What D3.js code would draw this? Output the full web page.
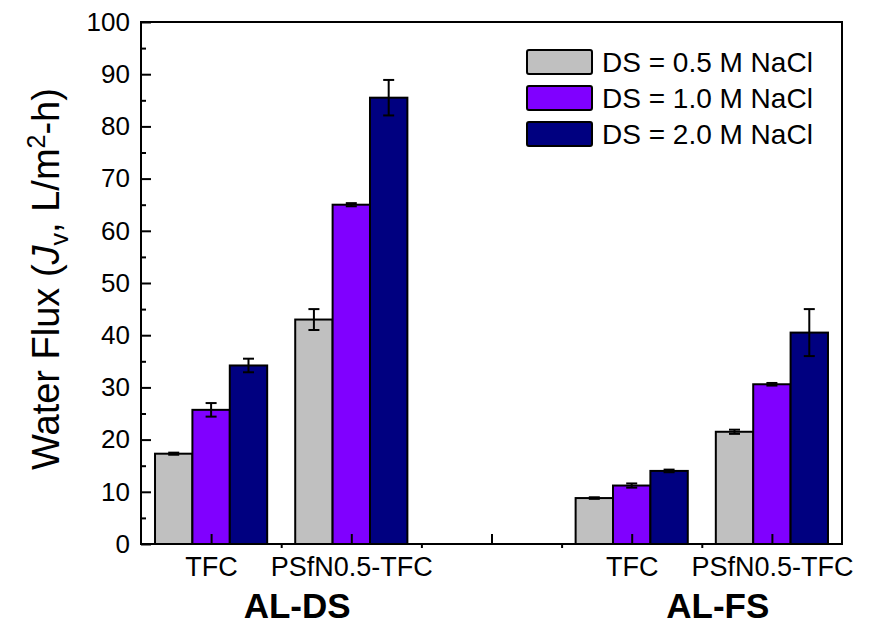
<!DOCTYPE html>
<html>
<head>
<meta charset="utf-8">
<script src="https://cdn.jsdelivr.net/npm/d3@7"></script>
<style>
  html, body { margin: 0; padding: 0; background: #fff; }
  svg { display: block; font-family: "Liberation Sans", Arial, sans-serif; }
</style>
</head>
<body>
<svg id="chart" width="875" height="633"></svg>
<script>
// ---- data ----
const xTickLabels = ["TFC", "PSfN0.5-TFC", "", "TFC", "PSfN0.5-TFC"];
const xPositions = [1, 2, 3, 4, 5];
const groupLabels = ["AL-DS", "AL-FS"];
const groupCenters = [1.5, 4.5];
const seriesNames = ["DS = 0.5 M NaCl", "DS = 1.0 M NaCl", "DS = 2.0 M NaCl"];
const seriesColors = ["#C0C0C0", "#8000FF", "#000080"];
const flux05 = [17.3, 43.0, null, 8.8, 21.5];
const flux10 = [25.7, 65.0, null, 11.2, 30.6];
const flux20 = [34.2, 85.5, null, 14.0, 40.5];
const err05 = [0.2, 2.0, null, 0.15, 0.4];
const err10 = [1.3, 0.3, null, 0.4, 0.25];
const err20 = [1.3, 3.4, null, 0.25, 4.5];
const yTicks = [0, 10, 20, 30, 40, 50, 60, 70, 80, 90, 100];
const yMinorTicks = [5, 15, 25, 35, 45, 55, 65, 75, 85, 95];
const xMinorTicks = [1.5, 2.5, 3.5, 4.5];

const seriesValues = [flux05, flux10, flux20];
const seriesErrors = [err05, err10, err20];

// ---- layout ----
const svg = d3.select("#chart");
const pLeft = 141, pRight = 842, pTop = 22, pBottom = 544;

const x = d3.scaleLinear().domain([0.5, 5.5]).range([pLeft, pRight]);
const y = d3.scaleLinear().domain([0, 100]).range([pBottom, pTop]);
const groupWidth = x(1.4) - x(0.6);
const xSub = d3.scaleBand().domain(d3.range(seriesNames.length)).range([-groupWidth / 2, groupWidth / 2]).paddingInner(0);

// ---- bars ----
const barData = [];
seriesValues.forEach((vals, s) => {
  vals.forEach((v, i) => {
    if (v != null) barData.push({ s, pos: xPositions[i], v, e: seriesErrors[s][i] });
  });
});

const gBars = svg.append("g");
gBars.selectAll("rect.bar").data(barData).enter().append("rect")
  .attr("class", "bar")
  .attr("x", d => x(d.pos) + xSub(d.s))
  .attr("width", xSub.bandwidth())
  .attr("y", d => y(d.v))
  .attr("height", d => y(0) - y(d.v))
  .attr("fill", d => seriesColors[d.s])
  .attr("stroke", "#000")
  .attr("stroke-width", 2);

// error bars
const capHalf = 5.5;
const gErr = svg.append("g").attr("stroke", "#000").attr("stroke-width", 2);
barData.forEach(d => {
  const cx = x(d.pos) + xSub(d.s) + xSub.bandwidth() / 2;
  gErr.append("line").attr("x1", cx).attr("x2", cx).attr("y1", y(d.v + d.e)).attr("y2", y(d.v - d.e));
  gErr.append("line").attr("x1", cx - capHalf).attr("x2", cx + capHalf).attr("y1", y(d.v + d.e)).attr("y2", y(d.v + d.e));
  gErr.append("line").attr("x1", cx - capHalf).attr("x2", cx + capHalf).attr("y1", y(d.v - d.e)).attr("y2", y(d.v - d.e));
});

// ---- axes ----
const yAxis = d3.axisLeft(y).tickValues(yTicks).tickSizeInner(-10).tickSizeOuter(0).tickPadding(11).tickFormat(d3.format("d"));
const gy = svg.append("g").attr("transform", `translate(${pLeft},0)`).call(yAxis);
gy.select(".domain").remove();
gy.selectAll(".tick line").attr("stroke", "#000").attr("stroke-width", 2);
gy.selectAll(".tick text").attr("font-size", 26).attr("fill", "#000").attr("font-family", "Liberation Sans, Arial, sans-serif");

const yMinor = d3.axisLeft(y).tickValues(yMinorTicks).tickSizeInner(-5).tickSizeOuter(0).tickFormat("");
const gym = svg.append("g").attr("transform", `translate(${pLeft},0)`).call(yMinor);
gym.select(".domain").remove();
gym.selectAll(".tick line").attr("stroke", "#000").attr("stroke-width", 2);

const xAxis = d3.axisBottom(x).tickValues(xPositions).tickSizeInner(-10).tickSizeOuter(0).tickPadding(13)
  .tickFormat((d, i) => xTickLabels[i]);
const gx = svg.append("g").attr("transform", `translate(0,${pBottom})`).call(xAxis);
gx.select(".domain").remove();
gx.selectAll(".tick line").attr("stroke", "#000").attr("stroke-width", 2);
gx.selectAll(".tick text").attr("font-size", 27).attr("fill", "#000").attr("font-family", "Liberation Sans, Arial, sans-serif");

const xMinor = d3.axisBottom(x).tickValues(xMinorTicks).tickSizeInner(4).tickSizeOuter(0).tickFormat("");
const gxm = svg.append("g").attr("transform", `translate(0,${pBottom})`).call(xMinor);
gxm.select(".domain").remove();
gxm.selectAll(".tick line").attr("stroke", "#000").attr("stroke-width", 2);

// frame
svg.append("rect")
  .attr("x", pLeft).attr("y", pTop)
  .attr("width", pRight - pLeft).attr("height", pBottom - pTop)
  .attr("fill", "none").attr("stroke", "#000").attr("stroke-width", 2);

// group labels
svg.append("g").selectAll("text").data(groupLabels).enter().append("text")
  .attr("x", (d, i) => x(groupCenters[i]) + 16)
  .attr("y", 618)
  .attr("text-anchor", "middle")
  .attr("font-size", 35)
  .attr("font-weight", "bold")
  .attr("fill", "#000")
  .text(d => d);

// y title
const title = svg.append("text")
  .attr("transform", `translate(59,279) rotate(-90)`)
  .attr("text-anchor", "middle")
  .attr("font-size", 38)
  .attr("fill", "#000");
title.append("tspan").text("Water Flux (");
title.append("tspan").attr("font-style", "italic").text("J");
title.append("tspan").attr("font-size", 25).attr("dy", 9).text("v");
title.append("tspan").attr("dy", -9).text(", L/m");
title.append("tspan").attr("font-size", 25).attr("dy", -14).text("2");
title.append("tspan").attr("dy", 14).text("-h)");

// legend
const legend = svg.append("g");
const legRows = legend.selectAll("g").data(seriesNames).enter().append("g")
  .attr("transform", (d, i) => `translate(527,${50 + i * 36})`);
legRows.append("rect")
  .attr("width", 65).attr("height", 24).attr("rx", 2)
  .attr("fill", (d, i) => seriesColors[i])
  .attr("stroke", "#000").attr("stroke-width", 2);
legRows.append("text")
  .attr("x", 75).attr("y", 22)
  .attr("font-size", 28)
  .attr("fill", "#000")
  .text(d => d);
</script>
</body>
</html>
